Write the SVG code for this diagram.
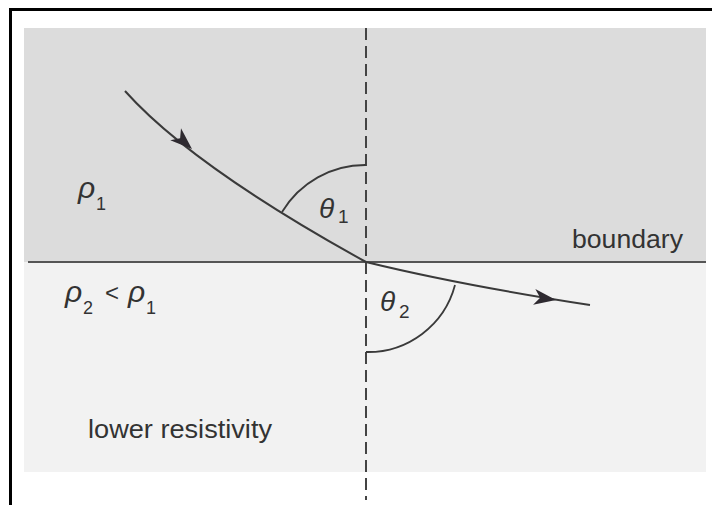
<svg xmlns="http://www.w3.org/2000/svg" width="712" height="505" viewBox="0 0 712 505">
<style>
.lbl{font-family:"Liberation Sans",Arial,sans-serif;fill:#333}
.sym{font-family:"Liberation Sans",Arial,sans-serif;font-style:italic;fill:#333}
.ray{fill:none;stroke:#3a3a3a;stroke-width:2}
.arc{fill:none;stroke:#3a3a3a;stroke-width:1.8}
</style>
<defs>
<path id="ah" d="M0,0 L-22,-8 L-16,0 L-22,8 Z" fill="#2e2a30"/>
</defs>
<rect x="0" y="0" width="712" height="505" fill="#ffffff"/>
<g id="regions">
<rect x="24" y="28" width="682" height="234" fill="#dcdcdc"/>
<rect x="24" y="262" width="682" height="210" fill="#f2f2f2"/>
</g>
<g id="frame" stroke="#000" stroke-width="3" fill="none">
<line x1="9" y1="9.5" x2="712" y2="9.5"/>
<line x1="10.5" y1="8" x2="10.5" y2="505"/>
</g>
<g id="boundary">
<line x1="28" y1="262" x2="706" y2="262" stroke="#555" stroke-width="2"/>
<text class="lbl" x="572" y="248" font-size="26" textLength="111" lengthAdjust="spacingAndGlyphs">boundary</text>
</g>
<g id="normal">
<line x1="366" y1="28" x2="366" y2="500" stroke="#444" stroke-width="2" stroke-dasharray="12,6"/>
</g>
<g id="connectors">
<path class="ray" d="M125,91 Q192,166 366,262"/>
<path class="ray" d="M366,262 Q460,285 590,305"/>
<use href="#ah" transform="translate(192,149) rotate(42)"/>
<use href="#ah" transform="translate(556,300) rotate(8)"/>
</g>
<g id="angle1">
<path class="arc" d="M366,165 A97,97 0 0 0 282,212"/>
<text class="sym" x="319" y="218" font-size="28">θ</text>
<text class="lbl" x="338" y="223" font-size="19">1</text>
</g>
<g id="angle2">
<path class="arc" d="M366,352 A90,90 0 0 0 455,285"/>
<text class="sym" x="380" y="311" font-size="28">θ</text>
<text class="lbl" x="399" y="318" font-size="19">2</text>
</g>
<g id="rho1">
<text class="sym" x="78" y="198" font-size="30">ρ</text>
<text class="lbl" x="96" y="210" font-size="18">1</text>
</g>
<g id="rho-compare">
<text class="sym" x="65" y="302" font-size="30">ρ</text>
<text class="lbl" x="83" y="314" font-size="18">2</text>
<text class="lbl" x="105" y="301" font-size="24">&lt;</text>
<text class="sym" x="128" y="302" font-size="30">ρ</text>
<text class="lbl" x="146" y="314" font-size="18">1</text>
</g>
<g id="lower">
<text class="lbl" x="88" y="438" font-size="26" textLength="184" lengthAdjust="spacingAndGlyphs">lower resistivity</text>
</g>
</svg>
